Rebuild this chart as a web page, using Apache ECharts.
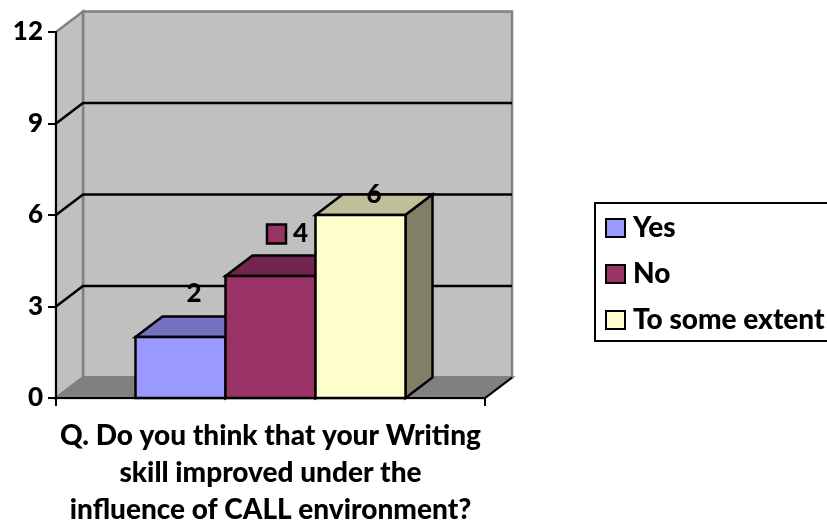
<!DOCTYPE html>
<html>
<head>
<meta charset="utf-8">
<style>html,body{margin:0;padding:0;background:#fff;overflow:hidden}#c{width:827px;height:525px}</style>
<script src="https://cdn.jsdelivr.net/npm/echarts@6/dist/echarts.min.js"></script>
</head>
<body>
<div id="c"></div>
<script>
const question = 'Q. Do you think that your Writing\nskill improved under the\ninfluence of CALL environment?';
const categories = [question];
const seriesNames = ['Yes', 'No', 'To some extent'];
const yesValues = [2];
const noValues = [4];
const extentValues = [6];
const gridValues = [3, 6, 9];
const yMax = 12;
const yInterval = 3;

const FONT = 'Lato';
const WEIGHT = 900;
const FS = 26;
const FS_TEXT = 28;
const DX = 27, DY = -20.5;
const BAR_SHARE = 0.2098;
const COLORS = [
  {front: '#9999FF', top: '#7373BF', side: '#666699'},
  {front: '#993366', top: '#73264D', side: '#662244'},
  {front: '#FFFFCC', top: '#BFBF99', side: '#808066'}
];
// label placement relative to the top-centre of each bar's column
const LABEL_OFFSET = [{x: 0, y: -43}, {x: 16.5, y: -42}, {x: 0, y: -20}];

const el = echarts.init(document.getElementById('c'));
const blackLine = {stroke: '#000', lineWidth: 2.5};

function wallsItem(params, api) {
  const l = api.coord([0, 0])[0] - api.size([1, 0])[0] / 2;
  const r = l + api.size([1, 0])[0];
  const y0 = api.coord([0, 0])[1], yT = api.coord([0, api.value(1)])[1];
  const gray = {stroke: '#808080', lineWidth: 2.5};
  return {type: 'group', children: [
    {type: 'polygon', shape: {points: [[l + DX, yT + DY], [r + DX, yT + DY], [r + DX, y0 + DY], [l + DX, y0 + DY]]},
      style: Object.assign({fill: '#C0C0C0'}, gray)},
    {type: 'polygon', shape: {points: [[l, yT], [l + DX, yT + DY], [l + DX, y0 + DY], [l, y0]]},
      style: Object.assign({fill: '#C0C0C0'}, gray)},
    {type: 'polygon', shape: {points: [[l, y0], [l + DX, y0 + DY], [r + DX, y0 + DY], [r, y0]]},
      style: Object.assign({fill: '#808080'}, gray)},
    {type: 'line', shape: {x1: r, y1: y0, x2: r + DX, y2: y0 + DY}, style: {stroke: '#000', lineWidth: 2}}
  ]};
}

function gridItem(params, api) {
  const l = api.coord([0, 0])[0] - api.size([1, 0])[0] / 2;
  const r = l + api.size([1, 0])[0];
  const y = api.coord([0, api.value(1)])[1];
  return {type: 'polyline', shape: {points: [[l, y], [l + DX, y + DY], [r + DX, y + DY]]},
    style: {stroke: '#000', lineWidth: 2.5, fill: null}};
}

function barSeries(idx) {
  return function (params, api) {
    const c = COLORS[idx];
    const band = api.size([1, 0])[0];
    const w = band * BAR_SHARE;
    const x = api.coord([0, 0])[0] + (idx - 1.5) * w;
    const y0 = api.coord([0, 0])[1];
    const y = api.coord([0, api.value(1)])[1];
    const x2 = x + w;
    return {type: 'group', children: [
      {type: 'polygon', shape: {points: [[x, y], [x + DX, y + DY], [x2 + DX, y + DY], [x2, y]]},
        style: Object.assign({fill: c.top}, blackLine)},
      {type: 'polygon', shape: {points: [[x2, y], [x2 + DX, y + DY], [x2 + DX, y0 + DY], [x2, y0]]},
        style: Object.assign({fill: c.side}, blackLine)},
      {type: 'rect', shape: {x: x, y: y, width: w, height: y0 - y},
        style: Object.assign({fill: c.front}, blackLine)}
    ]};
  };
}

function labelSeries(idx) {
  return function (params, api) {
    const c = COLORS[idx];
    const w = api.size([1, 0])[0] * BAR_SHARE;
    const x = api.coord([0, 0])[0] + (idx - 1.5) * w;
    const y = api.coord([0, api.value(1)])[1];
    const o = LABEL_OFFSET[idx];
    const cx = x + w / 2 + DX / 2 + o.x;
    const cy = y + o.y;
    const children = [];
    if (idx === 1) {
      children.push({type: 'rect', shape: {x: cx - 33.5, y: cy - 9.5, width: 19, height: 19},
        style: Object.assign({fill: c.front}, blackLine)});
    }
    children.push({type: 'text', style: {
      text: String(api.value(1)), x: cx, y: cy, align: 'center', verticalAlign: 'middle',
      font: WEIGHT + ' ' + FS + 'px ' + FONT, fill: '#000'
    }});
    return {type: 'group', children: children};
  };
}

const asPoints = vals => vals.map(v => [0, v]);

el.setOption({
  animation: false,
  backgroundColor: '#fff',
  grid: {left: 56, top: 32, width: 429, height: 366, containLabel: false, outerBoundsMode: 'none'},
  legend: {
    show: true,
    data: seriesNames,
    orient: 'vertical',
    left: 595, top: 203,
    padding: [11, 4, 7, 10],
    itemWidth: 19, itemHeight: 18, itemGap: 18,
    icon: 'rect',
    selectedMode: false,
    backgroundColor: '#fff',
    borderColor: '#000', borderWidth: 2, borderRadius: 0,
    itemStyle: {borderColor: '#000', borderWidth: 2},
    textStyle: {fontFamily: FONT, fontWeight: WEIGHT, fontSize: FS_TEXT, color: '#000', padding: [0, 0, 0, 3]}
  },
  xAxis: {
    type: 'category', data: categories, z: 6,
    axisLine: {lineStyle: {color: '#000', width: 2}},
    axisTick: {show: true, length: 8, alignWithLabel: false, lineStyle: {color: '#000', width: 2}},
    axisLabel: {interval: 0, margin: 19, fontFamily: FONT, fontWeight: WEIGHT, fontSize: FS_TEXT, lineHeight: 37, color: '#000', align: 'center'}
  },
  yAxis: {
    type: 'value', min: 0, max: yMax, interval: yInterval, z: 6,
    splitLine: {show: false},
    axisLine: {show: true, lineStyle: {color: '#000', width: 2}},
    axisTick: {show: true, length: 8, lineStyle: {color: '#000', width: 2}},
    axisLabel: {margin: 13, fontFamily: FONT, fontWeight: WEIGHT, fontSize: FS, color: '#000'}
  },
  series: [
    {type: 'custom', name: 'walls', z: 1, silent: true, clip: false, renderItem: wallsItem, data: asPoints([yMax])},
    {type: 'custom', name: 'grid', z: 1.5, silent: true, clip: false, renderItem: gridItem, data: asPoints(gridValues)},
    {type: 'custom', name: seriesNames[0], z: 2, clip: false, itemStyle: {color: COLORS[0].front}, renderItem: barSeries(0), data: asPoints(yesValues)},
    {type: 'custom', name: seriesNames[1], z: 3, clip: false, itemStyle: {color: COLORS[1].front}, renderItem: barSeries(1), data: asPoints(noValues)},
    {type: 'custom', name: seriesNames[2], z: 4, clip: false, itemStyle: {color: COLORS[2].front}, renderItem: barSeries(2), data: asPoints(extentValues)},
    {type: 'custom', name: 'label-yes', z: 5, silent: true, clip: false, renderItem: labelSeries(0), data: asPoints(yesValues)},
    {type: 'custom', name: 'label-no', z: 5, silent: true, clip: false, renderItem: labelSeries(1), data: asPoints(noValues)},
    {type: 'custom', name: 'label-extent', z: 5, silent: true, clip: false, renderItem: labelSeries(2), data: asPoints(extentValues)}
  ]
});
</script>
</body>
</html>
